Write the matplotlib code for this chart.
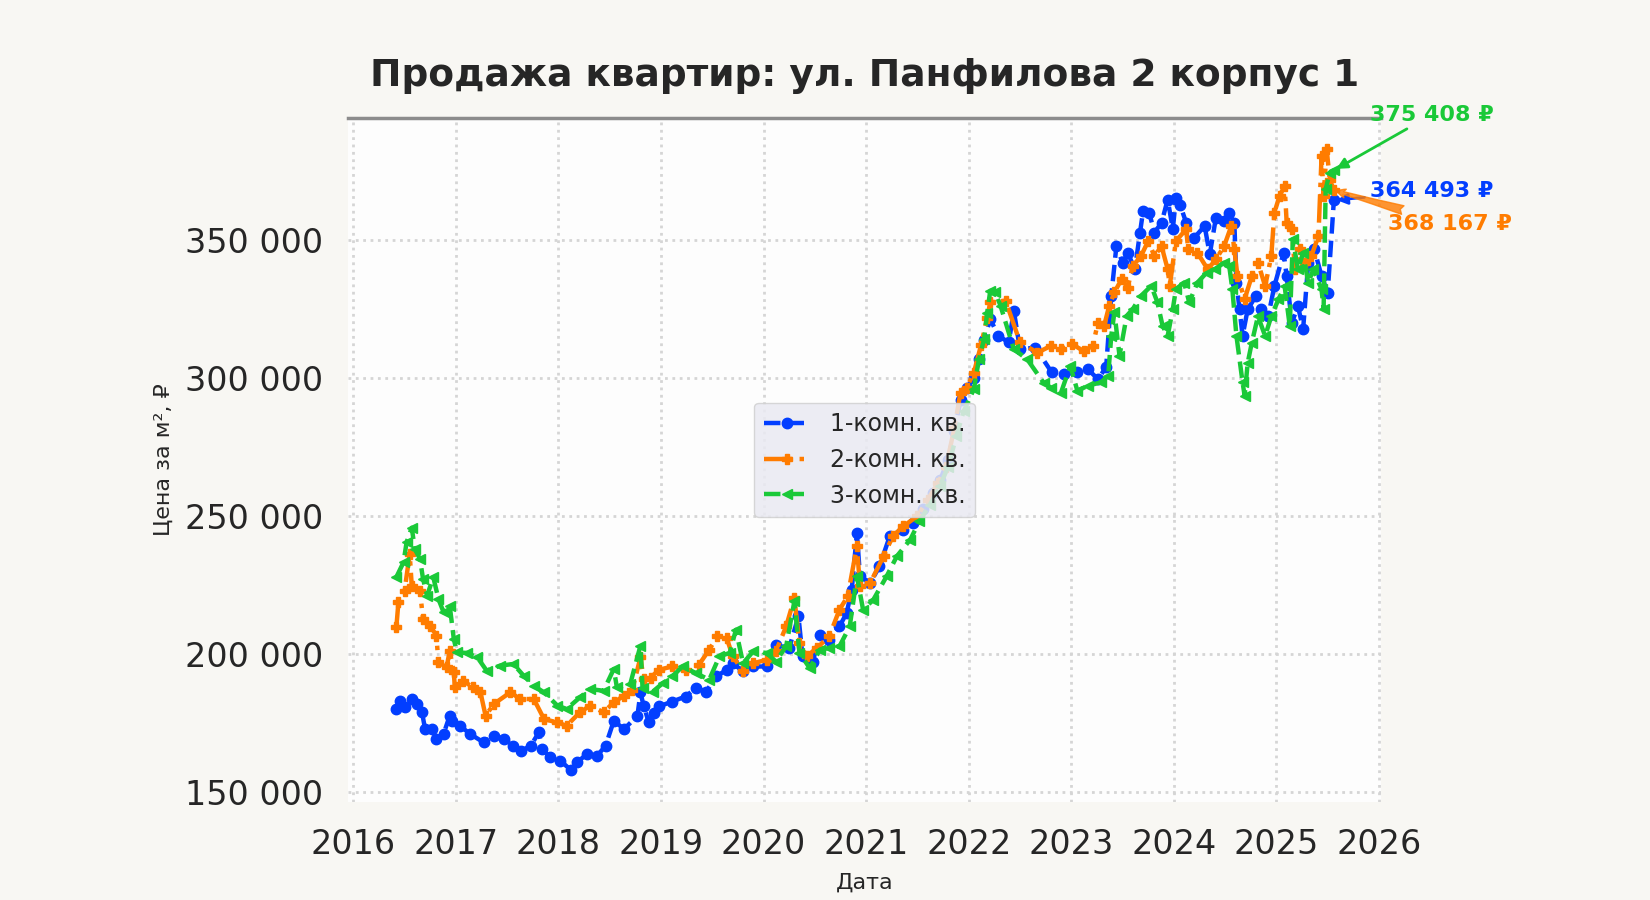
#!/usr/bin/env python3
import matplotlib
matplotlib.use('Agg')

import matplotlib.pyplot as plt
from matplotlib.ticker import MultipleLocator, FuncFormatter

plt.rcParams['font.family'] = ['DejaVu Sans', 'Noto Sans']

# decimal years and price per m2
years_1k = [2016.42, 2016.46, 2016.50, 2016.57, 2016.62, 2016.67, 2016.70, 2016.77, 2016.81, 2016.88,
            2016.94, 2016.96, 2017.04, 2017.14, 2017.27, 2017.37, 2017.47, 2017.56, 2017.64, 2017.73,
            2017.81, 2017.84, 2017.92, 2018.02, 2018.12, 2018.18, 2018.28, 2018.38, 2018.46, 2018.54,
            2018.64, 2018.77, 2018.80, 2018.83, 2018.88, 2018.93, 2018.98, 2019.11, 2019.24, 2019.34,
            2019.44, 2019.54, 2019.64, 2019.70, 2019.80, 2019.90, 2020.03, 2020.12, 2020.25, 2020.34,
            2020.38, 2020.48, 2020.55, 2020.64, 2020.74, 2020.81, 2020.86, 2020.91, 2020.94, 2021.04,
            2021.13, 2021.23, 2021.36, 2021.46, 2021.55, 2021.65, 2021.72, 2021.80, 2021.86, 2021.92,
            2021.98, 2022.05, 2022.10, 2022.15, 2022.21, 2022.29, 2022.39, 2022.44, 2022.50, 2022.65,
            2022.81, 2022.93, 2023.06, 2023.16, 2023.26, 2023.34, 2023.39, 2023.44, 2023.50, 2023.55,
            2023.62, 2023.67, 2023.70, 2023.76, 2023.81, 2023.88, 2023.94, 2023.99, 2024.02, 2024.06,
            2024.12, 2024.20, 2024.30, 2024.35, 2024.41, 2024.49, 2024.54, 2024.59, 2024.61, 2024.64,
            2024.67, 2024.72, 2024.80, 2024.85, 2024.92, 2024.98, 2025.07, 2025.10, 2025.15, 2025.21,
            2025.26, 2025.31, 2025.37, 2025.44, 2025.50, 2025.56]
price_1k = [180100, 183100, 180700, 183700, 181900, 178900, 172800, 172800, 169200, 171000,
            177600, 175800, 174000, 171000, 168000, 170400, 169200, 166800, 164900, 166800,
            171600, 165600, 162500, 161300, 158000, 160700, 163800, 163200, 166800, 175800,
            172800, 177600, 186100, 181300, 175400, 178500, 181000, 182800, 184600, 187700,
            186400, 191900, 194300, 196700, 193700, 195500, 195500, 203400, 202200, 213700,
            199200, 197300, 207000, 205200, 210000, 214900, 223400, 243900, 228200, 225800,
            231800, 242700, 245100, 247600, 252500, 258500, 263000, 270500, 281000, 292000,
            296600, 300000, 307000, 314000, 321400, 315400, 313000, 324400, 310500, 311100,
            302100, 301500, 302200, 303300, 299700, 304000, 329900, 348000, 341900, 345500,
            339500, 352800, 360600, 360000, 352800, 356400, 364800, 354000, 365400, 363000,
            356400, 351000, 355200, 344900, 358200, 357000, 360000, 356400, 334700, 325100,
            315400, 325000, 329800, 325000, 322500, 333400, 345500, 337000, 320100, 326200,
            317700, 341900, 346700, 337000, 331000, 364493]

years_2k = [2016.42, 2016.44, 2016.50, 2016.55, 2016.57, 2016.65, 2016.68, 2016.75, 2016.81, 2016.83,
            2016.91, 2016.94, 2016.98, 2016.99, 2017.07, 2017.17, 2017.24, 2017.29, 2017.37, 2017.53,
            2017.63, 2017.76, 2017.86, 2017.99, 2018.08, 2018.21, 2018.31, 2018.44, 2018.54, 2018.64,
            2018.72, 2018.80, 2018.83, 2018.90, 2018.98, 2019.11, 2019.24, 2019.37, 2019.47, 2019.55,
            2019.64, 2019.70, 2019.80, 2019.90, 2020.03, 2020.12, 2020.22, 2020.30, 2020.35, 2020.42,
            2020.52, 2020.64, 2020.74, 2020.82, 2020.91, 2020.94, 2021.04, 2021.17, 2021.26, 2021.36,
            2021.50, 2021.60, 2021.70, 2021.78, 2021.86, 2021.92, 2021.98, 2022.05, 2022.12, 2022.18,
            2022.21, 2022.36, 2022.50, 2022.67, 2022.80, 2022.90, 2023.01, 2023.12, 2023.21, 2023.26,
            2023.32, 2023.37, 2023.42, 2023.49, 2023.55, 2023.60, 2023.68, 2023.75, 2023.81, 2023.88,
            2023.94, 2023.96, 2024.02, 2024.12, 2024.14, 2024.23, 2024.33, 2024.41, 2024.49, 2024.56,
            2024.59, 2024.62, 2024.69, 2024.76, 2024.82, 2024.89, 2024.95, 2024.98, 2025.03, 2025.08,
            2025.10, 2025.15, 2025.18, 2025.23, 2025.28, 2025.34, 2025.41, 2025.44, 2025.46, 2025.49,
            2025.52, 2025.56]
price_2k = [209700, 218800, 223000, 236300, 224800, 223000, 212700, 210300, 206700, 197000,
            195200, 201200, 193400, 187900, 190300, 187900, 186100, 177600, 181900, 186100,
            183700, 183700, 176400, 175200, 174000, 178900, 181300, 178900, 182500, 184900,
            187100, 198800, 191000, 191500, 194300, 195500, 194300, 196100, 201600, 206400,
            205800, 199200, 193700, 196700, 197900, 201000, 210000, 220300, 204000, 199200,
            202200, 206400, 216100, 220900, 239100, 224600, 225800, 235500, 242700, 246300,
            250000, 256000, 262000, 268000, 282000, 294800, 296600, 302000, 312000, 322000,
            327500, 328100, 313000, 309300, 311700, 310500, 312300, 309900, 311800, 320200,
            319000, 326300, 331100, 335900, 332900, 340700, 344300, 349800, 344300, 347900,
            339500, 333500, 349800, 354000, 346700, 345500, 339500, 343100, 347900, 355200,
            346700, 337100, 328700, 337000, 341900, 333400, 344300, 360000, 366100, 369700,
            356400, 354000, 339500, 346700, 341900, 344300, 351600, 380600, 366100, 383000,
            372000, 368167]

years_3k = [2016.42, 2016.49, 2016.52, 2016.57, 2016.60, 2016.65, 2016.68, 2016.72, 2016.78, 2016.83,
            2016.88, 2016.94, 2016.98, 2017.01, 2017.11, 2017.21, 2017.30, 2017.43, 2017.56, 2017.66,
            2017.76, 2017.86, 2017.99, 2018.08, 2018.21, 2018.31, 2018.44, 2018.54, 2018.57, 2018.70,
            2018.80, 2018.82, 2018.92, 2019.02, 2019.11, 2019.21, 2019.34, 2019.47, 2019.57, 2019.67,
            2019.73, 2019.80, 2019.90, 2020.03, 2020.12, 2020.22, 2020.30, 2020.35, 2020.45, 2020.55,
            2020.64, 2020.74, 2020.84, 2020.91, 2020.97, 2021.07, 2021.20, 2021.30, 2021.43, 2021.52,
            2021.62, 2021.72, 2021.80, 2021.88, 2021.95, 2022.05, 2022.10, 2022.15, 2022.18, 2022.21,
            2022.26, 2022.31, 2022.44, 2022.57, 2022.73, 2022.80, 2022.90, 2022.99, 2023.06, 2023.16,
            2023.29, 2023.36, 2023.39, 2023.42, 2023.47, 2023.54, 2023.60, 2023.68, 2023.78, 2023.84,
            2023.89, 2023.94, 2023.99, 2024.02, 2024.10, 2024.15, 2024.23, 2024.32, 2024.40, 2024.49,
            2024.54, 2024.57, 2024.61, 2024.67, 2024.69, 2024.72, 2024.76, 2024.82, 2024.89, 2024.95,
            2025.02, 2025.08, 2025.13, 2025.16, 2025.21, 2025.26, 2025.31, 2025.36, 2025.44, 2025.46,
            2025.48, 2025.52, 2025.56]
price_3k = [227900, 233300, 240600, 245800, 238100, 234500, 227300, 221200, 227900, 220000,
            215200, 217600, 205500, 200600, 200400, 198800, 194000, 195800, 196400, 192200,
            188500, 186100, 181300, 180100, 184300, 187300, 186700, 194600, 187900, 189100,
            203100, 187700, 186400, 189500, 191900, 195500, 193100, 190700, 199200, 200400,
            208800, 196700, 201000, 200400, 197300, 202800, 219100, 200400, 194900, 201600,
            202200, 202800, 210000, 228200, 216100, 219700, 228200, 235500, 241500, 248200,
            254000, 261000, 268000, 279000, 288000, 296000, 306900, 314200, 323800, 331700,
            331100, 326300, 310500, 306900, 298400, 296600, 294800, 304500, 295400, 297300,
            298500, 301000, 315400, 323900, 308200, 322600, 325100, 329900, 333500, 327500,
            319000, 315400, 325100, 332300, 334700, 327500, 334700, 338300, 339500, 341900,
            340700, 332300, 315400, 298500, 293700, 305600, 312900, 322500, 315300, 322500,
            328600, 333400, 318900, 350400, 339500, 345500, 334600, 339500, 332200, 325000,
            368500, 374600, 375408]

labels = ['1-комн. кв.', '2-комн. кв.', '3-комн. кв.']
colors = ['#023eff', '#ff7c00', '#1ac938']

fig = plt.figure(figsize=(16.5, 9), dpi=100, facecolor='#f8f7f3')
ax = fig.add_axes([0.211, 0.109, 0.626, 0.760])
ax.set_facecolor('#fdfdfd')

ax.plot(years_1k, price_1k, linestyle='--', marker='o', markersize=7.5, linewidth=3.2,
        color=colors[0], label=labels[0])
ax.plot(years_2k, price_2k, linestyle='-.', marker='P', markersize=7.5, linewidth=3.2,
        color=colors[1], label=labels[1])
ax.plot(years_3k, price_3k, linestyle='--', marker='<', markersize=7.5, linewidth=3.2,
        color=colors[2], label=labels[2])

ax.set_xlim(2015.95, 2026.02)
ax.set_ylim(146400, 394400)
ax.xaxis.set_major_locator(MultipleLocator(1))
ax.xaxis.set_major_formatter(FuncFormatter(lambda v, p: '%d' % round(v)))
ax.yaxis.set_major_locator(MultipleLocator(50000))
ax.yaxis.set_major_formatter(FuncFormatter(lambda v, p: '{:,}'.format(int(v)).replace(',', ' ')))

ax.tick_params(axis='both', length=0, labelsize=24, labelcolor='#262626')
ax.tick_params(axis='x', pad=19)
ax.tick_params(axis='y', pad=18)
ax.grid(True, linestyle=':', linewidth=2, color='#d5d5d5')
ax.set_axisbelow(True)

for side in ['left', 'right', 'bottom']:
    ax.spines[side].set_visible(False)
ax.spines['top'].set_color('#8c8c8c')
ax.spines['top'].set_linewidth(2.5)

ax.set_title('Продажа квартир: ул. Панфилова 2 корпус 1', fontsize=27, fontweight='bold',
             color='#262626', pad=23)
ax.set_xlabel('Дата', fontsize=16, color='#262626', labelpad=8)
ax.set_ylabel('Цена за м², ₽', fontsize=16, color='#262626', labelpad=8)

leg = ax.legend(loc='center', fontsize=17, facecolor='#eaeaf2', edgecolor='#d0d0d0',
                framealpha=0.85)
for t in leg.get_texts():
    t.set_color('#262626')

# last values
ax.annotate('375 408 ₽', xy=(years_3k[-1], price_3k[-1]), xytext=(26, 40),
            textcoords='offset points', ha='left', va='center', fontsize=16,
            fontweight='bold', color=colors[2],
            arrowprops=dict(arrowstyle='-|>', color=colors[2], lw=2))
ax.annotate('364 493 ₽', xy=(years_1k[-1], price_1k[-1]), xytext=(26, 7),
            textcoords='offset points', ha='left', va='center', fontsize=16,
            fontweight='bold', color=colors[0],
            arrowprops=dict(arrowstyle='-|>', color=colors[0], lw=2))
ax.annotate('368 167 ₽', xy=(years_2k[-1], price_2k[-1]), xytext=(39, -24),
            textcoords='offset points', ha='left', va='center', fontsize=16,
            fontweight='bold', color=colors[1],
            arrowprops=dict(arrowstyle='fancy', color=colors[1], alpha=0.8))

plt.savefig('out.png', facecolor=fig.get_facecolor())
plt.close()
